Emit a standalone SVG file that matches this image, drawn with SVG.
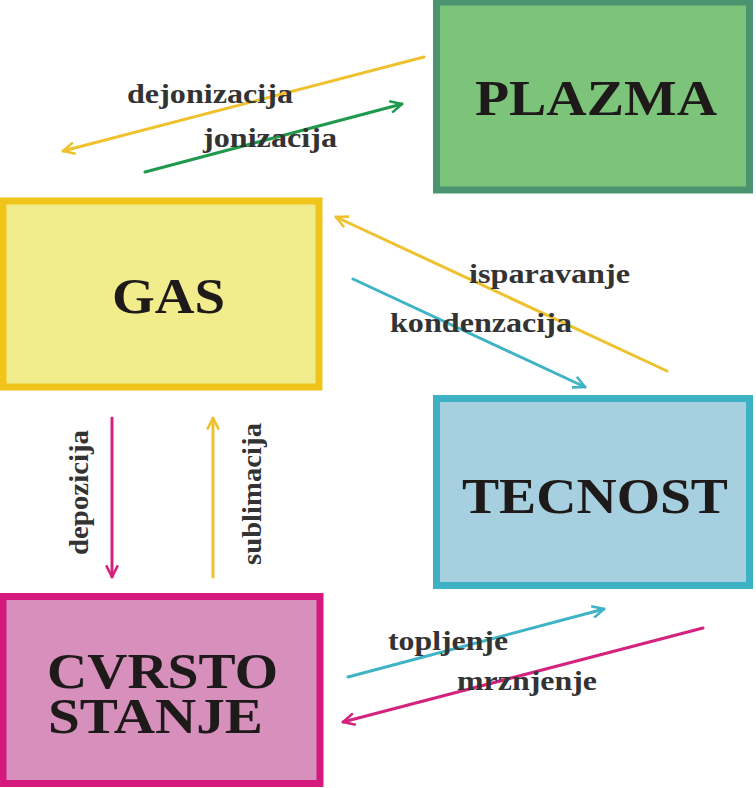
<svg xmlns="http://www.w3.org/2000/svg" width="756" height="788" viewBox="0 0 756 788">
<style>
.box{stroke-width:7}
.big{font-family:"Liberation Serif","Times New Roman",serif;font-weight:bold;font-size:50px;fill:#1e1a1a}
.lbl{font-family:"Liberation Serif","Times New Roman",serif;font-weight:bold;font-size:27px;fill:#333333}
.ln{fill:none;stroke-width:3;stroke-linecap:round}
</style>
<defs>
<marker id="aY" viewBox="0 0 12 12" refX="11" refY="6" markerWidth="14" markerHeight="14" markerUnits="userSpaceOnUse" orient="auto"><path d="M1,1 L11,6 L1,11" fill="none" stroke="#f0c12e" stroke-width="2.2"/></marker>
<marker id="aG" viewBox="0 0 12 12" refX="11" refY="6" markerWidth="14" markerHeight="14" markerUnits="userSpaceOnUse" orient="auto"><path d="M1,1 L11,6 L1,11" fill="none" stroke="#1f9a4c" stroke-width="2.2"/></marker>
<marker id="aC" viewBox="0 0 12 12" refX="11" refY="6" markerWidth="14" markerHeight="14" markerUnits="userSpaceOnUse" orient="auto"><path d="M1,1 L11,6 L1,11" fill="none" stroke="#3fb3c6" stroke-width="2.2"/></marker>
<marker id="aM" viewBox="0 0 12 12" refX="11" refY="6" markerWidth="14" markerHeight="14" markerUnits="userSpaceOnUse" orient="auto"><path d="M1,1 L11,6 L1,11" fill="none" stroke="#d4237f" stroke-width="2.2"/></marker>
</defs>
<rect width="756" height="788" fill="#ffffff"/>
<g id="plazma">
<rect class="box" x="436.5" y="2" width="313" height="188" fill="#7dc47b" stroke="#4a9570"/>
<text class="big" x="475" y="115" textLength="242" lengthAdjust="spacingAndGlyphs">PLAZMA</text>
</g>
<g id="gas">
<rect class="box" x="3" y="201" width="316" height="186" fill="#f1ec8c" stroke="#f0c41b"/>
<text class="big" x="112" y="313" textLength="113" lengthAdjust="spacingAndGlyphs">GAS</text>
</g>
<g id="tecnost">
<rect class="box" x="436.5" y="398.5" width="313" height="187" fill="#a6cfe0" stroke="#3fb1c5"/>
<text class="big" x="462" y="513" textLength="266" lengthAdjust="spacingAndGlyphs">TECNOST</text>
</g>
<g id="cvrsto">
<rect class="box" x="3" y="596.5" width="317" height="187" fill="#d690bb" stroke="#d6197e"/>
<text class="big" x="47" y="688" textLength="231" lengthAdjust="spacingAndGlyphs">CVRSTO</text>
<text class="big" x="48" y="733" textLength="215" lengthAdjust="spacingAndGlyphs">STANJE</text>
</g>
<g id="connectors">
<line class="ln" x1="424" y1="57" x2="63" y2="151" stroke="#f0c12e" marker-end="url(#aY)"/>
<line class="ln" x1="145" y1="172" x2="402" y2="104" stroke="#1f9a4c" marker-end="url(#aG)"/>
<line class="ln" x1="667" y1="371" x2="336" y2="217" stroke="#f0c12e" marker-end="url(#aY)"/>
<line class="ln" x1="353" y1="279" x2="585" y2="387" stroke="#3fb3c6" marker-end="url(#aC)"/>
<line class="ln" x1="112" y1="418" x2="112" y2="577" stroke="#d4237f" marker-end="url(#aM)"/>
<line class="ln" x1="213" y1="577" x2="213" y2="418" stroke="#f0c12e" marker-end="url(#aY)"/>
<line class="ln" x1="348" y1="677" x2="604" y2="609" stroke="#3fb3c6" marker-end="url(#aC)"/>
<line class="ln" x1="703" y1="628" x2="343" y2="722" stroke="#d4237f" marker-end="url(#aM)"/>
</g>
<g id="labels">
<text class="lbl" x="127" y="103" textLength="166" lengthAdjust="spacingAndGlyphs">dejonizacija</text>
<text class="lbl" x="203" y="147" textLength="134" lengthAdjust="spacingAndGlyphs">jonizacija</text>
<text class="lbl" x="469" y="283" textLength="161" lengthAdjust="spacingAndGlyphs">isparavanje</text>
<text class="lbl" x="390" y="332" textLength="182" lengthAdjust="spacingAndGlyphs">kondenzacija</text>
<text class="lbl" transform="translate(88,555) rotate(-90)" textLength="125" lengthAdjust="spacingAndGlyphs">depozicija</text>
<text class="lbl" transform="translate(261,565) rotate(-90)" textLength="142" lengthAdjust="spacingAndGlyphs">sublimacija</text>
<text class="lbl" x="388" y="650" textLength="120" lengthAdjust="spacingAndGlyphs">topljenje</text>
<text class="lbl" x="457" y="690" textLength="140" lengthAdjust="spacingAndGlyphs">mrznjenje</text>
</g>
</svg>
